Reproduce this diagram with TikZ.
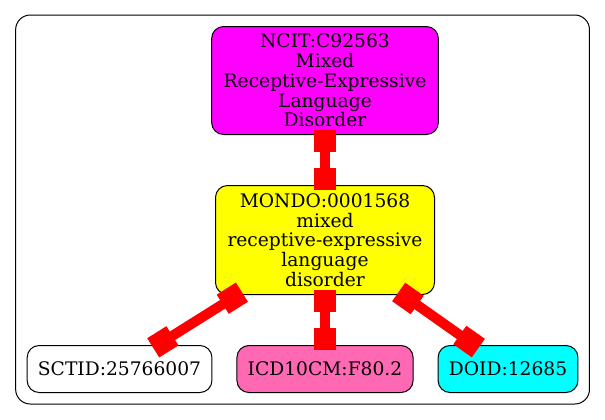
\documentclass[tikz,border=0pt]{standalone}
\usepackage{fontspec}
\setmainfont{DejaVu Serif}
\usetikzlibrary{positioning,arrows.meta,fit,backgrounds}
\definecolor{ncitmag}{HTML}{FF00FF}
\definecolor{mondoyel}{HTML}{FFFF00}
\definecolor{icdpink}{HTML}{FF69B4}
\definecolor{doidcyan}{HTML}{00FFFF}
\definecolor{xrefred}{HTML}{FF0000}

\begin{document}
\begin{tikzpicture}[x=0.75pt, y=-0.75pt,
      font=\fontsize{14}{14.8}\selectfont,
      term/.style={draw=black, line width=0.75pt, rounded corners=9pt, align=center,
                   inner xsep=9pt, inner ysep=3pt, minimum height=35.25pt},
      leaf/.style={term, inner xsep=8.1pt},
      xref/.style={draw=xrefred, line width=7.5pt,
                   {Square[length=17pt,width=17pt]}-{Square[length=17pt,width=17pt]},
                   shorten <=-4pt, shorten >=-4pt},
      node distance=37.5pt and 18pt]
    \useasboundingbox (0,0) rectangle (605,419);
    \node[term, fill=mondoyel, minimum height=81.75pt] (mondo) at (325,240)
         {MONDO:0001568\\ mixed\\ receptive-expressive\\ language\\ disorder};
    \node[term, fill=ncitmag, minimum height=81pt, above=of mondo] (ncit)
         {NCIT:C92563\\ Mixed\\ Receptive-Expressive\\ Language\\ Disorder};
    \node[leaf, fill=icdpink, below=of mondo] (icd) {ICD10CM:F80.2};
    \node[leaf, fill=white, left=of icd] (sctid) {SCTID:25766007};
    \node[leaf, fill=doidcyan, right=of icd] (doid) {DOID:12685};
    \begin{scope}[on background layer]
      \node[draw=black, line width=0.75pt, rounded corners=11pt, inner sep=8.25pt,
            fit=(ncit)(sctid)(doid)] (cluster) {};
    \end{scope}
    \draw[xref] (ncit) -- (mondo);
    \draw[xref] (mondo) -- (sctid);
    \draw[xref] (mondo) -- (icd);
    \draw[xref] (mondo) -- (doid);
  \end{tikzpicture}
\end{document}
